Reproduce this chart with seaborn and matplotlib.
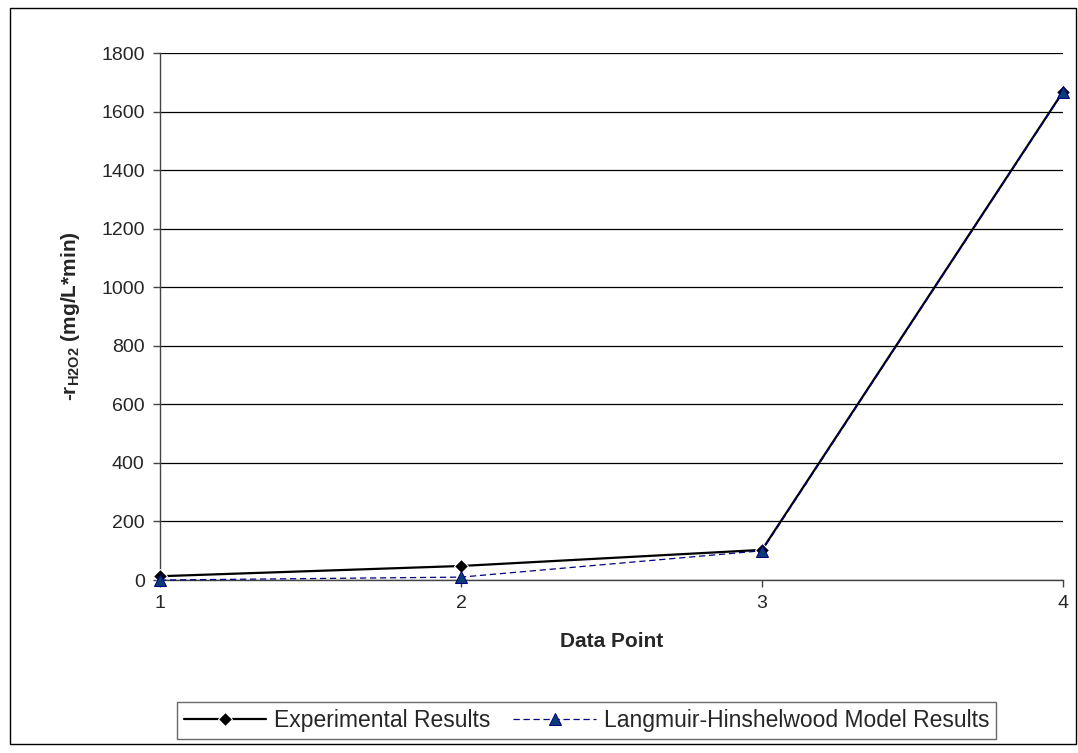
import numpy as np
import pandas as pd
import matplotlib
matplotlib.use("Agg")
import matplotlib.pyplot as plt
import seaborn as sns
from matplotlib.patches import Rectangle

# Data
data_points = [1, 2, 3, 4]
experimental = [13, 48, 103, 1668]
lh_model = [0, 10, 100, 1666]
y_ticks = [0, 200, 400, 600, 800, 1000, 1200, 1400, 1600, 1800]

sns.set_style("white")
plt.rcParams['font.family'] = ['Liberation Sans', 'DejaVu Sans']
plt.rcParams['mathtext.fontset'] = 'custom'
plt.rcParams['mathtext.rm'] = 'Liberation Sans'
plt.rcParams['mathtext.bf'] = 'Liberation Sans:bold'

df = pd.DataFrame({
    "Data Point": data_points * 2,
    "rate": experimental + lh_model,
    "series": ["Experimental Results"] * 4 + ["Langmuir-Hinshelwood Model Results"] * 4,
})

fig = plt.figure(figsize=(10.78, 7.53), dpi=100)
ax = fig.add_axes([0.1484, 0.2297, 0.8377, 0.6999])

sns.lineplot(data=df, x="Data Point", y="rate", hue="series", style="series",
             palette=["black", "#000080"], dashes=[(None, None), (5, 3)],
             markers=["D", "^"], markersize=8, linewidth=1.6, ax=ax, legend=False,
             clip_on=False)
ax.lines[0].set_linewidth(1.6)
ax.lines[1].set_linewidth(0.9)
ax.lines[1].set_markeredgecolor("#000080")
ax.lines[1].set_markerfacecolor("#0a3d78")
ax.lines[0].set_markersize(7)
ax.lines[0].set_zorder(3)
ax.lines[1].set_zorder(4)

ax.set_xlim(1, 4)
ax.set_ylim(0, 1800)
ax.set_xticks(data_points)
ax.set_yticks(y_ticks)
ax.tick_params(axis='both', labelsize=14, length=5, direction='out', width=1, color='#444444',
               left=True, bottom=True, pad=6)
ax.yaxis.grid(True, color='black', linewidth=0.9)
ax.set_axisbelow(True)
for s in ['top', 'right']:
    ax.spines[s].set_visible(False)
for s in ['left', 'bottom']:
    ax.spines[s].set_color('#444444')
    ax.spines[s].set_linewidth(1)

ax.set_xlabel("Data Point", fontsize=15, fontweight='bold', labelpad=14)
ax.set_ylabel(r"-r$_{\mathbf{H2O2}}$ (mg/L*min)", fontsize=15, fontweight='bold', labelpad=14)

handles = [ax.lines[0], ax.lines[1]]
leg = fig.legend(handles, ["Experimental Results", "Langmuir-Hinshelwood Model Results"],
                 loc='center', bbox_to_anchor=(0.544, 0.0435), ncol=2, frameon=True,
                 fancybox=False, edgecolor='#444444', fontsize=16.5, handlelength=3.6,
                 columnspacing=1.0, handletextpad=0.35, borderpad=0.3)
leg.get_frame().set_linewidth(1)

fig.patches.append(Rectangle((0.009, 0.012), 0.989, 0.978, transform=fig.transFigure,
                             fill=False, edgecolor='black', linewidth=1))

fig.savefig("out.png", dpi=100)
